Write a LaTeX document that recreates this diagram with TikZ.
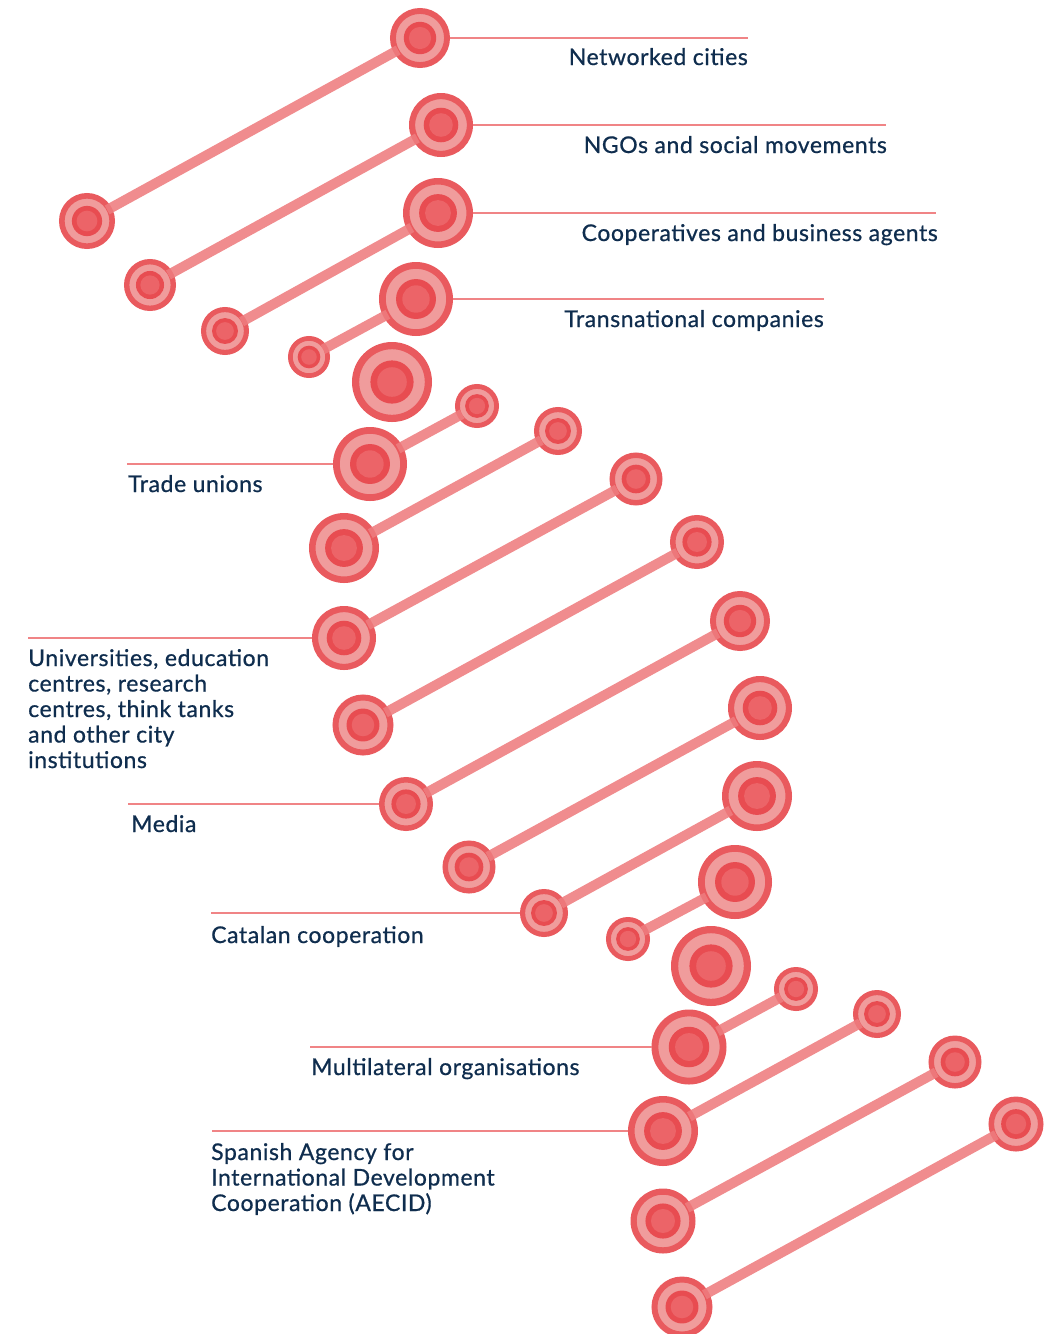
\documentclass[tikz,border=0pt]{standalone}
\usepackage{fontspec}
\setmainfont{Lato}[LetterSpace=2.5,FakeBold=0.7]
\definecolor{ringc}{HTML}{E95A5E}
\definecolor{lightc}{HTML}{F09C9C}
\definecolor{innerc}{HTML}{E84C51}
\definecolor{corec}{HTML}{EC6468}
\definecolor{connc}{HTML}{EE7C7E}
\definecolor{lblc}{HTML}{F08486}
\definecolor{textc}{HTML}{0F2D4E}
\newcommand\mkblob[4]{%
  \node[blobouter, minimum size={(1.87*#4-2)*1pt}, line width={(2+0.13*#4)*1pt}] (#1) at (#2,#3) {};
  \fill[innerc] (#1.center) circle[radius={0.54*#4*1pt}];
  \fill[corec] (#1.center) circle[radius={0.37*#4*1pt}];
}
\begin{document}
\begin{tikzpicture}[x=1pt,y=-1pt,
  blobouter/.style={circle, draw=ringc, fill=lightc, inner sep=0pt},
  conn/.style={draw=connc, line width=10pt, opacity=0.88, shorten <=-5pt, shorten >=-5pt},
  lblline/.style={draw=lblc, line width=2pt},
  lbl/.style={text=textc, font=\fontsize{23}{25.5}\selectfont, inner sep=0pt}]
\useasboundingbox (0,0) rectangle (1049,1334);
% blobs: left/lower end (a) and right/upper end (b)
\mkblob{a1}{87}{221}{28}
\mkblob{b1}{420}{38}{30}
\mkblob{a2}{150}{285}{26}
\mkblob{b2}{441}{125}{32}
\mkblob{a3}{225}{331}{24}
\mkblob{b3}{438}{213}{35}
\mkblob{a4}{309}{357}{21}
\mkblob{b4}{416}{299}{37}
\mkblob{c5}{392}{382}{40}
\mkblob{a6}{370}{464}{37}
\mkblob{b6}{477}{406}{22}
\mkblob{a7}{344}{548}{35}
\mkblob{b7}{558}{431}{24}
\mkblob{a8}{344}{638}{32}
\mkblob{b8}{636}{479}{26.5}
\mkblob{a9}{363}{725}{30.5}
\mkblob{b9}{697}{542}{27}
\mkblob{a10}{406}{804}{27}
\mkblob{b10}{740}{621}{30}
\mkblob{a11}{469}{867}{26.5}
\mkblob{b11}{760}{708}{32}
\mkblob{a12}{544}{913}{24}
\mkblob{b12}{757}{796}{35}
\mkblob{a13}{628}{939}{22}
\mkblob{b13}{735}{882}{37}
\mkblob{c14}{711}{966}{40}
\mkblob{a15}{689}{1047}{37.5}
\mkblob{b15}{796}{989}{22}
\mkblob{a16}{663}{1131}{35}
\mkblob{b16}{877}{1014}{24}
\mkblob{a17}{663}{1221}{32.5}
\mkblob{b17}{955}{1062}{26.5}
\mkblob{a18}{682}{1307}{30.5}
\mkblob{b18}{1016}{1124}{27.5}
% connectors
\foreach \i in {1,2,3,4,6,7,8,9,10,11,12,13,15,16,17,18}{
  \draw[conn] (a\i) -- (b\i);
}
% label lines
\coordinate (e1) at (748,38);
\coordinate (e2) at (886,125);
\coordinate (e3) at (936,213);
\coordinate (e4) at (824,299);
\coordinate (s6) at (127,464);
\coordinate (s8) at (28,638);
\coordinate (s10) at (128,804);
\coordinate (s12) at (211,913);
\coordinate (s15) at (310,1047);
\coordinate (s16) at (212,1131);
\draw[lblline] (b1.east) -- (e1);
\draw[lblline] (b2.east) -- (e2);
\draw[lblline] (b3.east) -- (e3);
\draw[lblline] (b4.east) -- (e4);
\draw[lblline] (s6) -- (a6.west);
\draw[lblline] (s8) -- (a8.west);
\draw[lblline] (s10) -- (a10.west);
\draw[lblline] (s12) -- (a12.west);
\draw[lblline] (s15) -- (a15.west);
\draw[lblline] (s16) -- (a16.west);
% labels
\node[lbl, anchor=base east] (t1) at (748,65) {Networked cities};
\node[lbl, anchor=base east] (t2) at (887,153) {NGOs and social movements};
\node[lbl, anchor=base east] (t3) at (938,241) {Cooperatives and business agents};
\node[lbl, anchor=base east] (t4) at (824,327) {Transnational companies};
\node[lbl, anchor=base west] (t6) at (128,492) {Trade unions};
\node[lbl, anchor=base west] (t8) at (28,666) {\begin{tabular}[t]{@{}l@{}}Universities, education\\centres, research\\centres, think tanks\\and other city\\institutions\end{tabular}};
\node[lbl, anchor=base west] (t10) at (131,832) {Media};
\node[lbl, anchor=base west] (t12) at (211,943) {Catalan cooperation};
\node[lbl, anchor=base west] (t15) at (311,1075) {Multilateral organisations};
\node[lbl, anchor=base west] (t16) at (211,1160) {\begin{tabular}[t]{@{}l@{}}Spanish Agency for\\International Development\\Cooperation (AECID)\end{tabular}};
\end{tikzpicture}
\end{document}
